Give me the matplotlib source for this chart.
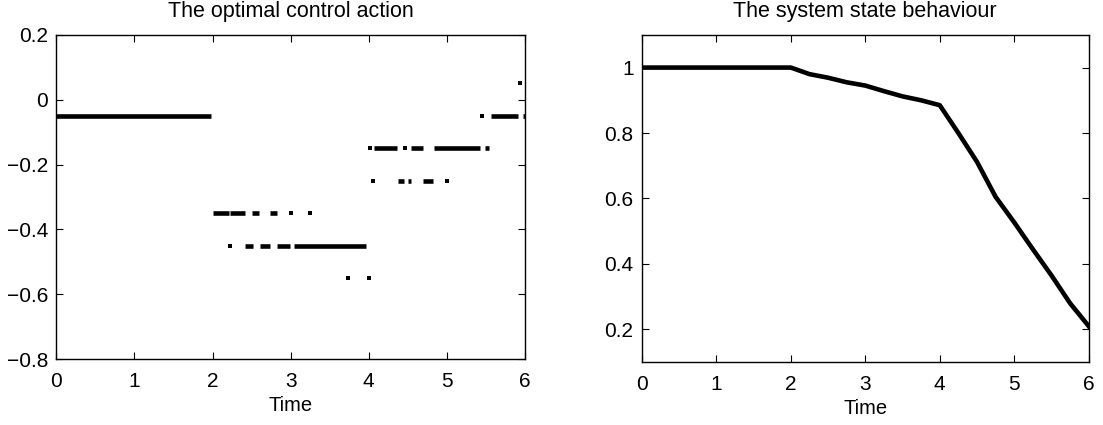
import matplotlib
matplotlib.use("Agg")
import matplotlib.pyplot as plt
import numpy as np

plt.rcParams['font.family'] = ['Liberation Sans', 'DejaVu Sans']

# ---- Left chart: optimal control action (piecewise segments of sampled control) ----
seg_level = [-0.05, -0.05, -0.05,
             -0.15, -0.15, -0.15, -0.15,
             -0.25, -0.25, -0.25,
             -0.35, -0.35, -0.35, -0.35,
             -0.45, -0.45, -0.45, -0.45]
seg_start = [0.00, 5.56, 5.97,
             4.07, 4.54, 4.83, 5.49,
             4.37, 4.50, 4.69,
             2.00, 2.23, 2.50, 2.74,
             2.41, 2.61, 2.82, 3.04]
seg_end = [1.98, 5.91, 6.00,
           4.36, 4.69, 5.42, 5.54,
           4.45, 4.54, 4.82,
           2.21, 2.41, 2.60, 2.82,
           2.52, 2.74, 2.99, 3.97]
dot_t = [5.45, 5.94, 4.01, 4.47, 4.06, 5.00, 3.01, 3.25, 2.23, 3.74, 4.00]
dot_u = [-0.05, 0.05, -0.15, -0.15, -0.25, -0.25, -0.35, -0.35, -0.45, -0.55, -0.55]

# ---- Right chart: system state ----
state_t = [0, 0.5, 1.0, 1.5, 2.0, 2.25, 2.5, 2.75, 3.0, 3.25, 3.5, 3.75, 4.0,
           4.25, 4.5, 4.75, 5.0, 5.25, 5.5, 5.75, 6.0]
state_x = [1.0, 1.0, 1.0, 1.0, 1.0, 0.98, 0.969, 0.955, 0.945, 0.928, 0.912, 0.9, 0.885,
           0.80, 0.712, 0.605, 0.527, 0.445, 0.365, 0.28, 0.21]

fig = plt.figure(figsize=(11.03, 4.25), dpi=100)
ax1 = fig.add_axes([0.051, 0.155, 0.425, 0.763])
ax2 = fig.add_axes([0.582, 0.148, 0.405, 0.77])

FS = 15

for ax in (ax1, ax2):
    ax.tick_params(direction='in', top=True, right=True, length=5, width=0.8,
                   labelsize=FS, colors='black')
    ax.tick_params(axis='x', pad=9)
    ax.tick_params(axis='y', pad=6)
    for s in ax.spines.values():
        s.set_linewidth(1.0)
    ax.set_xlim(0, 6)
    ax.set_xticks(range(0, 7))
    ax.set_xlabel('Time', fontsize=14.5, labelpad=4)

ax1.hlines(seg_level, seg_start, seg_end, colors='black', linewidth=3.3, capstyle='butt')
ax1.scatter(dot_t, dot_u, s=12, c='black', marker='s', linewidths=0)
ax1.set_ylim(-0.8, 0.2)
ax1.set_yticks([-0.8, -0.6, -0.4, -0.2, 0, 0.2])
ax1.set_yticklabels(['\u22120.8', '\u22120.6', '\u22120.4', '\u22120.2', '0', '0.2'])
ax1.set_title('The optimal control action', fontsize=15.5, pad=13)

ax2.plot(state_t, state_x, color='black', linewidth=3.3)
ax2.set_ylim(0.1, 1.1)
ax2.set_yticks([0.2, 0.4, 0.6, 0.8, 1.0])
ax2.set_yticklabels(['0.2', '0.4', '0.6', '0.8', '1'])
ax2.set_title('The system state behaviour', fontsize=15.5, pad=13)

fig.savefig('out.png', dpi=100)
